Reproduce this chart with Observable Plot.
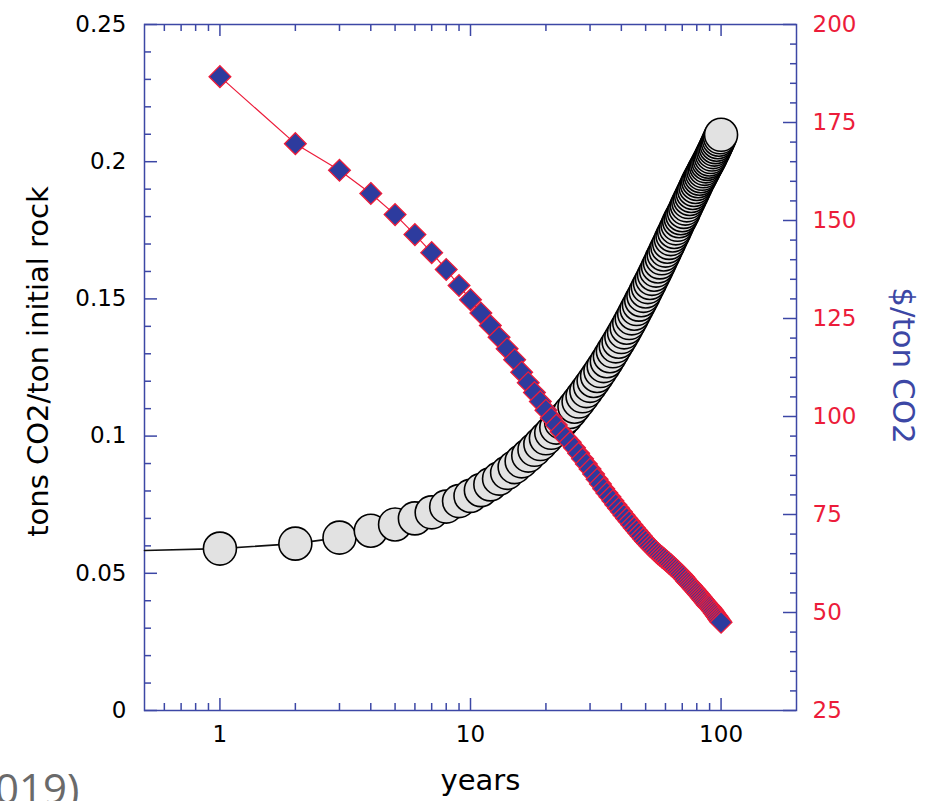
<!DOCTYPE html>
<html>
<head>
<meta charset="utf-8">
<script src="https://cdn.jsdelivr.net/npm/d3@7"></script>
<script src="https://cdn.jsdelivr.net/npm/@observablehq/plot@0.6"></script>
<style>
  html, body { margin: 0; padding: 0; background: #ffffff; overflow: hidden; }
  #chart { position: relative; width: 933px; height: 801px; }
</style>
</head>
<body>
<div id="chart"></div>
<script>
// ---- data ----
const years = d3.range(1, 101);

// tons CO2 / ton initial rock (grey circles, left axis)
const co2PerTon = [
  0.0590, 0.0608, 0.0630, 0.0655, 0.0678, 0.0700, 0.0722, 0.0743, 0.0763, 0.0782,
  0.0803, 0.0824, 0.0845, 0.0866, 0.0887, 0.0908, 0.0929, 0.0950, 0.0971, 0.0992,
  0.1012, 0.1031, 0.1050, 0.1069, 0.1088, 0.1107, 0.1126, 0.1145, 0.1164, 0.1183,
  0.1201, 0.1219, 0.1237, 0.1255, 0.1273, 0.1291, 0.1309, 0.1327, 0.1344, 0.1361,
  0.1378, 0.1395, 0.1412, 0.1429, 0.1446, 0.1463, 0.1479, 0.1495, 0.1511, 0.1527,
  0.1543, 0.1558, 0.1573, 0.1588, 0.1603, 0.1618, 0.1633, 0.1648, 0.1662, 0.1676,
  0.1690, 0.1704, 0.1718, 0.1731, 0.1744, 0.1757, 0.1770, 0.1783, 0.1794, 0.1805,
  0.1817, 0.1829, 0.1841, 0.1853, 0.1864, 0.1875, 0.1886, 0.1897, 0.1908, 0.1919,
  0.1929, 0.1938, 0.1947, 0.1956, 0.1965, 0.1974, 0.1983, 0.1992, 0.2000, 0.2008,
  0.2017, 0.2026, 0.2035, 0.2044, 0.2053, 0.2062, 0.2071, 0.2080, 0.2089, 0.2098
];

// $ / ton CO2 (blue diamonds, right axis)
const pricePerTon = [
  186.7, 169.6, 162.8, 156.9, 151.5, 146.4, 141.8, 137.5, 133.4, 129.8,
  126.4, 123.2, 120.2, 117.3, 114.5, 111.3, 108.6, 106.1, 103.8, 101.6,
  99.6, 97.8, 96.1, 94.6, 93.4, 92.0, 90.6, 89.2, 87.9, 86.6,
  85.3, 84.0, 82.8, 81.6, 80.5, 79.5, 78.5, 77.5, 76.6, 75.7,
  74.8, 74.0, 73.2, 72.4, 71.6, 70.9, 70.2, 69.5, 68.8, 68.2,
  67.6, 67.0, 66.5, 66.0, 65.5, 65.0, 64.6, 64.2, 63.8, 63.4,
  63.0, 62.6, 62.2, 61.8, 61.4, 61.0, 60.6, 60.2, 59.8, 59.4,
  59.0, 58.5, 58.0, 57.6, 57.2, 56.8, 56.4, 56.0, 55.6, 55.2,
  54.8, 54.4, 54.0, 53.6, 53.2, 52.8, 52.4, 52.0, 51.7, 51.4,
  51.1, 50.7, 50.3, 49.9, 49.5, 49.1, 48.7, 48.3, 47.9, 47.5
];

// start of the black curve at the left edge
const leadYear = [0.5];
const leadValue = [0.0583];

// axis ticks
const xMajor = [1, 10, 100];
const xMinor = [0.6, 0.7, 0.8, 0.9, 2, 3, 4, 5, 6, 7, 8, 9, 20, 30, 40, 50, 60, 70, 80, 90];
const yMajor = [0, 0.05, 0.1, 0.15, 0.2, 0.25];
const yMinor = [0.01, 0.02, 0.03, 0.04, 0.06, 0.07, 0.08, 0.09, 0.11, 0.12, 0.13, 0.14,
                0.16, 0.17, 0.18, 0.19, 0.21, 0.22, 0.23, 0.24];
const priceMajor = [25, 50, 75, 100, 125, 150, 175, 200];
const priceMinor = [30, 35, 40, 45, 55, 60, 65, 70, 80, 85, 90, 95, 105, 110, 115, 120,
                    130, 135, 140, 145, 155, 160, 165, 170, 180, 185, 190, 195];
const yDomain = [0, 0.25];
const priceDomain = [25, 200];

// ---- build ----
const toV = p => (p - priceDomain[0]) / (priceDomain[1] - priceDomain[0]) * (yDomain[1] - yDomain[0]) + yDomain[0];
const toP = v => (v - yDomain[0]) / (yDomain[1] - yDomain[0]) * (priceDomain[1] - priceDomain[0]) + priceDomain[0];

const circles = years.map((y, i) => ({year: y, v: co2PerTon[i]}));
const curve = leadYear.map((y, i) => ({year: y, v: leadValue[i]})).concat(circles);
const diamonds = years.map((y, i) => ({year: y, v: toV(pricePerTon[i])}));

const W = 933, H = 801;
const mL = 144, mR = 137, mT = 24, mB = 91;
const frameH = H - mT - mB, frameW = W - mL - mR;
const BLUE = "#3c47a5", RED = "#ec1c3a";

const chart = Plot.plot({
  width: W, height: H,
  marginLeft: mL, marginRight: mR, marginTop: mT, marginBottom: mB,
  x: {type: "log", domain: [0.5, 200]},
  y: {domain: yDomain},
  style: {fontFamily: "'DejaVu Sans', sans-serif", fontSize: "23px", background: "white", color: "black"},
  marks: [
    // inward ticks: bottom & top
    Plot.ruleX(xMajor, {stroke: BLUE, strokeWidth: 1.5, insetTop: frameH - 12}),
    Plot.ruleX(xMinor, {stroke: BLUE, strokeWidth: 1.5, insetTop: frameH - 7}),
    Plot.ruleX(xMajor, {stroke: BLUE, strokeWidth: 1.5, insetBottom: frameH - 12}),
    Plot.ruleX(xMinor, {stroke: BLUE, strokeWidth: 1.5, insetBottom: frameH - 7}),
    // inward ticks: left
    Plot.ruleY(yMajor, {stroke: BLUE, strokeWidth: 1.5, insetRight: frameW - 13}),
    Plot.ruleY(yMinor, {stroke: BLUE, strokeWidth: 1.5, insetRight: frameW - 7}),
    // inward ticks: right
    Plot.ruleY(priceMajor.map(toV), {stroke: BLUE, strokeWidth: 1.5, insetLeft: frameW - 13}),
    Plot.ruleY(priceMinor.map(toV), {stroke: BLUE, strokeWidth: 1.5, insetLeft: frameW - 6}),
    Plot.frame({stroke: BLUE, strokeWidth: 1.5}),
    // tick labels
    Plot.axisX({ticks: xMajor, tickSize: 0, tickPadding: 15, tickFormat: d => String(d), label: null, color: "black"}),
    Plot.axisY({anchor: "left", ticks: yMajor, tickSize: 0, tickPadding: 18, tickFormat: d => String(+d.toFixed(2)), label: null, color: "black"}),
    Plot.axisY({anchor: "right", ticks: priceMajor.map(toV), tickSize: 0, tickPadding: 16, tickFormat: v => String(Math.round(toP(v))), label: null, color: RED}),
    // black curve + circles
    Plot.line(curve, {x: "year", y: "v", stroke: "#111", strokeWidth: 1.6}),
    Plot.dot(circles, {x: "year", y: "v", r: 16.5, fill: "#e2e2e2", stroke: "#000", strokeWidth: 1.6}),
    // red curve + diamonds
    Plot.line(diamonds, {x: "year", y: "v", stroke: RED, strokeWidth: 1.2}),
    Plot.dot(diamonds, {x: "year", y: "v", r: 9.8, symbol: "diamond2", fill: "#2d3b9e", stroke: RED, strokeWidth: 1.3}),
    // axis titles
    Plot.text(["years"], {frameAnchor: "bottom", textAnchor: "middle", lineAnchor: "middle", dx: 10, dy: 70, fontSize: 29, fill: "black"}),
    Plot.text(["tons CO2/ton initial rock"], {frameAnchor: "left", textAnchor: "middle", lineAnchor: "middle", dx: -106, dy: -6, rotate: -90, fontSize: 29, fill: "black"}),
    Plot.text(["$/ton CO2"], {frameAnchor: "right", textAnchor: "middle", lineAnchor: "middle", dx: 106, dy: -2, rotate: 90, fontSize: 31, fill: BLUE}),
    // cropped caption fragment at bottom left
    Plot.text(["(2019)"], {frameAnchor: "bottom-left", dx: -186, dy: 93, textAnchor: "start", lineAnchor: "bottom", fontSize: 42, fill: "#6a6a6a", fontFamily: "'Open Sans', sans-serif"})
  ]
});

document.getElementById("chart").appendChild(chart);
</script>
</body>
</html>
